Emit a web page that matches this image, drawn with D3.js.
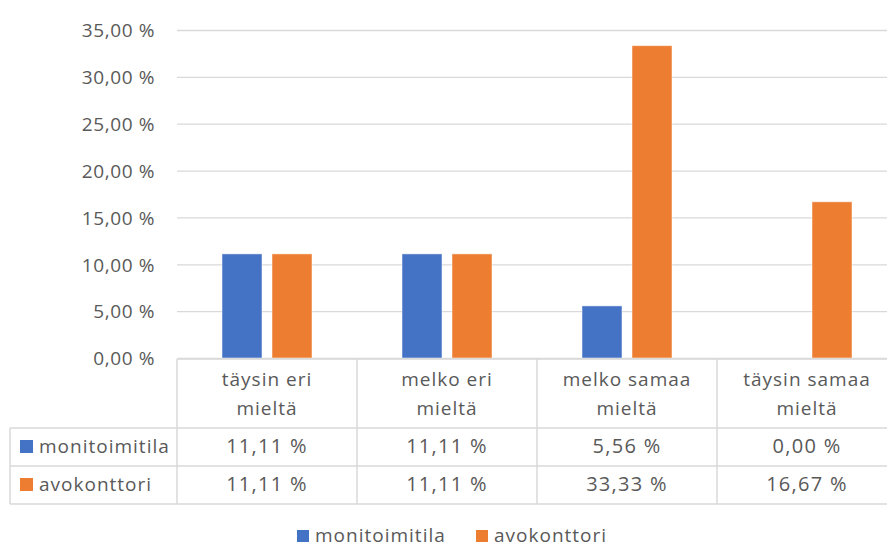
<!DOCTYPE html>
<html>
<head>
<meta charset="utf-8">
<script src="https://cdn.jsdelivr.net/npm/d3@7"></script>
<style>
  html, body { margin: 0; padding: 0; background: #ffffff; }
  svg { display: block; }
  text { font-family: "Open Sans", "Noto Sans", sans-serif; fill: #595959; }
</style>
</head>
<body>
<svg id="chart" width="887" height="548"></svg>
<script>
// Survey answers, share of respondents per office type
const categories = [["täysin eri", "mieltä"], ["melko eri", "mieltä"], ["melko samaa", "mieltä"], ["täysin samaa", "mieltä"]];
const seriesNames = ["monitoimitila", "avokonttori"];
const monitoimitila = [11.11, 11.11, 5.56, 0.00];
const avokonttori = [11.11, 11.11, 33.33, 16.67];
const seriesColors = ["#4472C4", "#ED7D31"];
const yTicks = [0, 5, 10, 15, 20, 25, 30, 35];

const series = [monitoimitila, avokonttori];
const fmt = v => v.toFixed(2).replace(".", ",") + " %";

const svg = d3.select("#chart");
const plotLeft = 177, plotRight = 887, plotTop = 30, plotBottom = 358;
const colW = 180;
const catKeys = categories.map((c, i) => i);
const tableFont = "19px", tableSpacing = "1px";

const x = d3.scaleBand().domain(catKeys).range([plotLeft, plotLeft + colW * categories.length]).padding(0);
const xs = d3.scaleBand().domain(seriesNames).range([0, x.bandwidth()]).paddingInner(0.2).paddingOuter(0.9);
const y = d3.scaleLinear().domain([0, 35]).range([plotBottom, plotTop]);

// gridlines
const grid = svg.append("g")
  .attr("transform", `translate(${plotLeft},0)`)
  .call(d3.axisLeft(y).tickValues(yTicks).tickSize(-(plotRight - plotLeft)).tickFormat(""));
grid.select(".domain").remove();
grid.selectAll("line").attr("stroke", "#d9d9d9").attr("stroke-width", 1.3);

// y axis labels
const yAxis = svg.append("g")
  .attr("transform", `translate(${plotLeft - 22},0)`)
  .call(d3.axisLeft(y).tickValues(yTicks).tickSize(0).tickPadding(0).tickFormat(d => fmt(d)));
yAxis.select(".domain").remove();
yAxis.selectAll("text")
  .attr("font-size", "19px")
  .attr("letter-spacing", "0.6px")
  .attr("dy", "0.36em")
  .style("fill", "#595959")
  .style("font-family", "'Open Sans', sans-serif");

// bars
series.forEach((vals, si) => {
  svg.append("g").selectAll("rect")
    .data(vals.map((v, i) => ({ v, i })))
    .join("rect")
    .attr("x", d => x(d.i) + xs(seriesNames[si]))
    .attr("width", xs.bandwidth())
    .attr("y", d => y(d.v))
    .attr("height", d => y(0) - y(d.v))
    .attr("fill", seriesColors[si])
    .attr("stroke", d => d.v > 0 ? "#ffffff" : "none")
    .attr("stroke-opacity", 0.5)
    .attr("stroke-width", 1);
});

// data table
const headTop = 359, headBottom = 428, rowH = 38;
const tableLeft = 10;
const border = "#d9d9d9";
const tbl = svg.append("g");

// horizontal rules
tbl.append("line").attr("x1", plotLeft).attr("x2", plotRight).attr("y1", headTop).attr("y2", headTop)
  .attr("stroke", border).attr("stroke-width", 1.5);
[headBottom, headBottom + rowH, headBottom + 2 * rowH].forEach(yy => {
  tbl.append("line").attr("x1", tableLeft).attr("x2", plotRight).attr("y1", yy).attr("y2", yy)
    .attr("stroke", border).attr("stroke-width", 1.5);
});
// vertical rules
catKeys.forEach(i => {
  tbl.append("line").attr("x1", x(i)).attr("x2", x(i)).attr("y1", headTop).attr("y2", headBottom + 2 * rowH)
    .attr("stroke", border).attr("stroke-width", 1.5);
});
tbl.append("line").attr("x1", tableLeft).attr("x2", tableLeft).attr("y1", headBottom).attr("y2", headBottom + 2 * rowH)
  .attr("stroke", border).attr("stroke-width", 1.5);

// category headers
categories.forEach((lines, i) => {
  const t = tbl.append("text")
    .attr("text-anchor", "middle")
    .attr("font-size", tableFont)
    .attr("letter-spacing", tableSpacing);
  lines.forEach((ln, k) => {
    t.append("tspan").attr("x", x(i) + colW / 2).attr("y", 386 + k * 29).text(ln);
  });
});

// series rows
series.forEach((vals, si) => {
  const base = headBottom + si * rowH + 25;
  tbl.append("rect")
    .attr("x", 20).attr("y", base - 13).attr("width", 13).attr("height", 13)
    .attr("fill", seriesColors[si]);
  tbl.append("text")
    .attr("x", 39).attr("y", base)
    .attr("font-size", tableFont)
    .attr("letter-spacing", tableSpacing)
    .text(seriesNames[si]);
  vals.forEach((v, i) => {
    tbl.append("text")
      .attr("x", x(i) + colW / 2).attr("y", base)
      .attr("text-anchor", "middle")
      .attr("font-size", "20px")
      .attr("letter-spacing", "1.3px")
      .text(fmt(v));
  });
});

// legend
const legendItems = [{ name: seriesNames[0], x: 297 }, { name: seriesNames[1], x: 476 }];
legendItems.forEach((it, si) => {
  svg.append("rect")
    .attr("x", it.x).attr("y", 530).attr("width", 12).attr("height", 12)
    .attr("fill", seriesColors[si]);
  svg.append("text")
    .attr("x", it.x + 18).attr("y", 542)
    .attr("font-size", "19px")
    .attr("letter-spacing", tableSpacing)
    .text(it.name);
});
</script>
</body>
</html>
